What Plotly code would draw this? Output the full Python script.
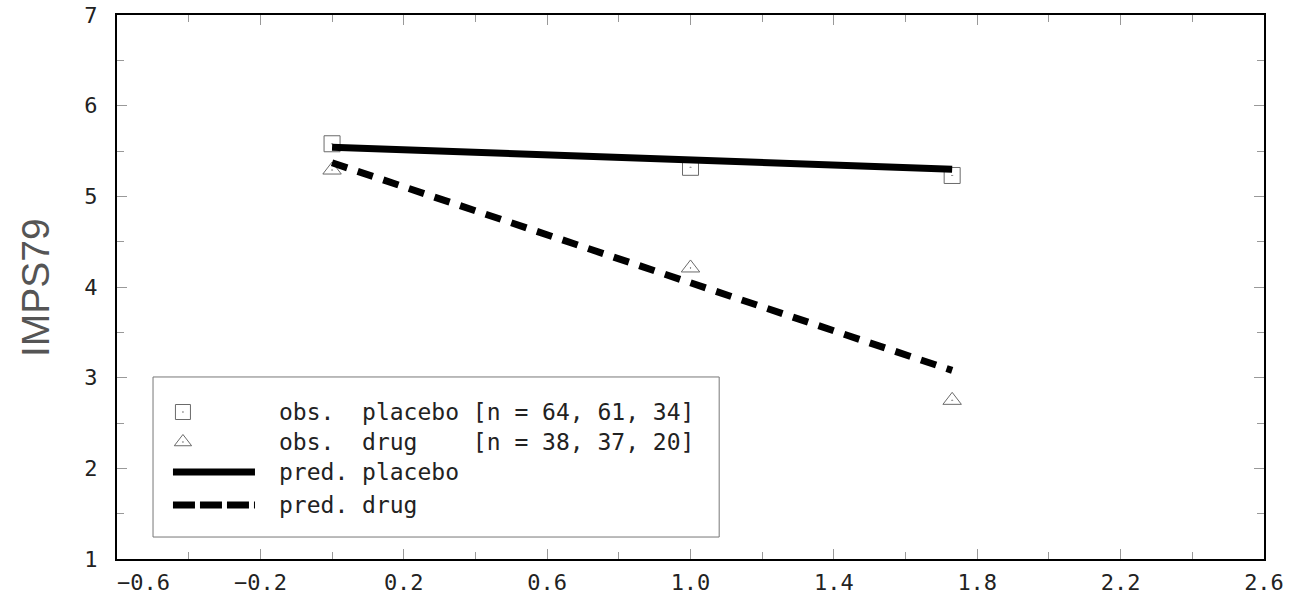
import plotly.graph_objects as go

# ---- data ----
time = [0.0, 1.0, 1.73]
obs_placebo = [5.58, 5.32, 5.23]
obs_drug = [5.29, 4.21, 2.75]
pred_placebo = [5.54, 5.40, 5.30]
pred_drug = [5.37, 4.05, 3.08]

x_ticks = [-0.6, -0.2, 0.2, 0.6, 1.0, 1.4, 1.8, 2.2, 2.6]
y_ticks = [1, 2, 3, 4, 5, 6, 7]

legend_labels = [
    "obs.  placebo [n = 64, 61, 34]",
    "obs.  drug    [n = 38, 37, 20]",
    "pred. placebo",
    "pred. drug",
]

MONO = "DejaVu Sans Mono, Liberation Mono, monospace"
SYM_COLOR = "#6a6a6a"
TICK_COLOR = "#999999"
DASH_MAIN = "16px,11px"
DASH_LEG = "22px,5px"

# x tick text: first label sits to the right of its tick as in the original
x_ticktext = [f"{v:.1f}".replace("-", "\u2212") for v in x_ticks]
x_ticktext[0] = "\u00a0" * 4 + x_ticktext[0]

fig = go.Figure()

# observed markers
fig.add_trace(go.Scatter(x=time, y=obs_placebo, mode="markers",
                         marker=dict(symbol="square-open-dot", size=16,
                                     color=SYM_COLOR, line=dict(width=1, color=SYM_COLOR)),
                         showlegend=False))
fig.add_trace(go.Scatter(x=time, y=obs_drug, mode="markers",
                         marker=dict(symbol="triangle-up-open-dot", size=16,
                                     color=SYM_COLOR, line=dict(width=1, color=SYM_COLOR)),
                         showlegend=False))
# predicted lines
fig.add_trace(go.Scatter(x=time, y=pred_placebo, mode="lines",
                         line=dict(color="black", width=7), showlegend=False))
fig.add_trace(go.Scatter(x=time, y=pred_drug, mode="lines",
                         line=dict(color="black", width=7, dash=DASH_MAIN), showlegend=False))

# ---- custom legend (overlay axes in 0..1 space) ----
lx0, lx1, ly0, ly1 = 0.0314, 0.525, 0.0404, 0.3346
rows = [0.2702, 0.2151, 0.1599, 0.0993]
sym_x = 0.0575
line_x = [0.0488, 0.1203]
text_x = 0.1395

fig.add_trace(go.Scatter(x=[sym_x], y=[rows[0]], xaxis="x2", yaxis="y2", mode="markers",
                         marker=dict(symbol="square-open-dot", size=15, color=SYM_COLOR,
                                     line=dict(width=1, color=SYM_COLOR)), showlegend=False))
fig.add_trace(go.Scatter(x=[sym_x], y=[rows[1]], xaxis="x2", yaxis="y2", mode="markers",
                         marker=dict(symbol="triangle-up-open-dot", size=15, color=SYM_COLOR,
                                     line=dict(width=1, color=SYM_COLOR)), showlegend=False))
fig.add_trace(go.Scatter(x=line_x, y=[rows[2]] * 2, xaxis="x2", yaxis="y2", mode="lines",
                         line=dict(color="black", width=7), showlegend=False))
fig.add_trace(go.Scatter(x=line_x, y=[rows[3]] * 2, xaxis="x2", yaxis="y2", mode="lines",
                         line=dict(color="black", width=7, dash=DASH_LEG), showlegend=False))

fig.add_shape(type="rect", xref="paper", yref="paper", x0=lx0, x1=lx1, y0=ly0, y1=ly1,
              line=dict(color="#777777", width=1), fillcolor="rgba(0,0,0,0)")

annotations = []
for label, ry in zip(legend_labels, rows):
    annotations.append(dict(x=text_x, y=ry, xref="paper", yref="paper",
                            text=label.replace(" ", "\u00a0"),
                            showarrow=False, xanchor="left", yanchor="middle",
                            font=dict(family=MONO, size=23, color="#222222")))
annotations.append(dict(x=-0.0715, y=0.5, xref="paper", yref="paper", text="IMPS79",
                        textangle=-90, showarrow=False, xanchor="center", yanchor="middle",
                        font=dict(family="Liberation Sans, Arial, sans-serif",
                                  size=39, color="#555555")))

axis_common = dict(showline=True, linewidth=2, linecolor="black", mirror="ticks",
                   ticks="inside", ticklen=10, tickwidth=1, tickcolor=TICK_COLOR,
                   showgrid=False, zeroline=False, automargin=False,
                   tickfont=dict(family=MONO, size=22, color="#222222"))

fig.update_layout(
    width=1289, height=605,
    margin=dict(l=117, r=25, t=15, b=46),
    plot_bgcolor="white", paper_bgcolor="white",
    xaxis=dict(range=[-0.6, 2.6], tickvals=x_ticks, ticktext=x_ticktext,
               minor=dict(ticks="inside", ticklen=7, tickcolor=TICK_COLOR, dtick=0.2, tick0=-0.6),
               ticklabelstandoff=3, **axis_common),
    yaxis=dict(range=[1, 7], tickvals=y_ticks,
               minor=dict(ticks="inside", ticklen=7, tickcolor=TICK_COLOR, dtick=0.5, tick0=1),
               ticklabelstandoff=13, **axis_common),
    xaxis2=dict(overlaying="x", range=[0, 1], visible=False),
    yaxis2=dict(overlaying="y", range=[0, 1], visible=False),
    annotations=annotations,
)

fig.write_html("out.html",
               config={"displayModeBar": False},
               post_script="document.body.style.margin='0';document.body.style.overflow='hidden';")
